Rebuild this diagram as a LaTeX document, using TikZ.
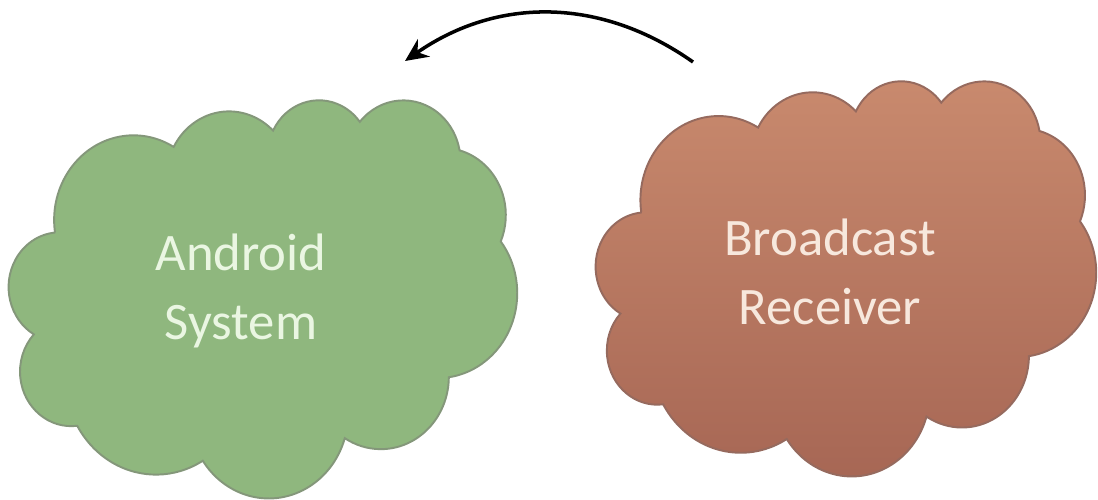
\documentclass[tikz,border=0pt]{standalone}
\usepackage{fontspec}
\setmainfont{Carlito}
\usetikzlibrary{arrows.meta}
\definecolor{greenfill}{HTML}{8FB77E}
\definecolor{greenline}{HTML}{84977A}
\definecolor{greentext}{HTML}{EAF6E2}
\definecolor{browntop}{HTML}{C98A6E}
\definecolor{brownbot}{HTML}{A66654}
\definecolor{brownline}{HTML}{966A5E}
\definecolor{browntext}{HTML}{F7E8DD}
\newcommand\ooarc[4]{arc[x radius=#1, y radius=#2,
  start angle={atan2(#1*sin(#3),#2*cos(#3))},
  delta angle={mod(atan2(#1*sin(#3+#4),#2*cos(#3+#4))-atan2(#1*sin(#3),#2*cos(#3))+720,360)}]}
\newcommand\cloudoutline{(39.00,143.70)
  \ooarc{67.53}{91.90}{-190.487}{123.781}
  \ooarc{53.33}{72.67}{-144.102}{89.945}
  \ooarc{43.65}{59.45}{-145.808}{99.723}
  \ooarc{48.57}{65.95}{-130.986}{117.242}
  \ooarc{53.33}{72.73}{-78.709}{109.027}
  \ooarc{67.75}{92.20}{-46.267}{130.269}
  \ooarc{57.85}{78.67}{0.625}{114.033}
  \ooarc{67.52}{92.15}{22.452}{115.173}
  \ooarc{77.20}{105.43}{66.243}{75.711}
  \ooarc{43.60}{59.18}{-274.942}{146.736}
  \ooarc{43.45}{59.45}{-246.829}{152.519}
  -- cycle}
\tikzset{
  labeltext/.style={font=\fontsize{30}{39}\selectfont, align=center},
  cloudline/.style={line width=1.1pt},
  flowarrow/.style={-{Stealth[length=13pt,width=12pt]}, line width=2pt, black}
}
\begin{document}
\begin{tikzpicture}[x=0.02cm,y=-0.02cm]
\useasboundingbox (0,0) rectangle (1098,500);
\fill[white] (0,0) rectangle (1098,500);
\begin{scope}[shift={(9,99)}, xscale=508/432, yscale=398/432]
  \path[cloudline, draw=greenline, fill=greenfill] \cloudoutline;
  \coordinate (android) at (216,216);
\end{scope}
\begin{scope}[shift={(596,80)}, xscale=500/432, yscale=395/432]
  \path[cloudline, draw=brownline, top color=browntop, bottom color=brownbot] \cloudoutline;
  \coordinate (receiver) at (216,216);
\end{scope}
\node[labeltext, text=greentext] (androidtext) at (241,291) {Android\\System};
\node[labeltext, text=browntext] (receivertext) at (830,272) {Broadcast\\Receiver};
\coordinate (astart) at (693,62);
\coordinate (aend) at (405,61);
\draw[flowarrow] (astart) to[bend right=35] (aend);
\end{tikzpicture}
\end{document}
